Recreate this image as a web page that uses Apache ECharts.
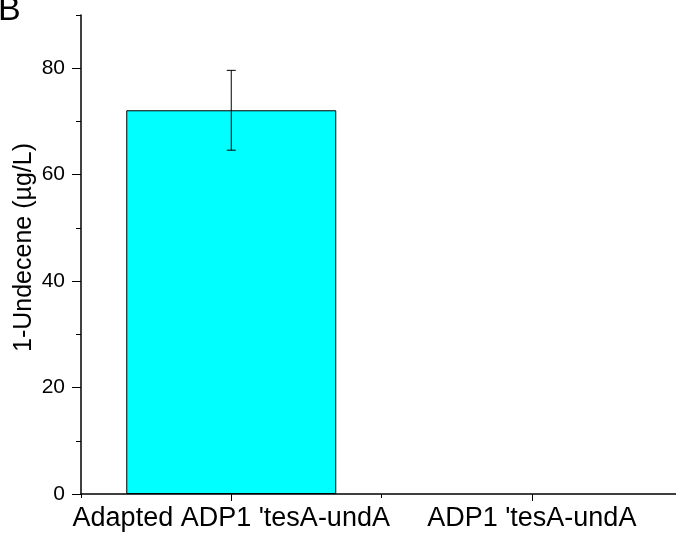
<!DOCTYPE html>
<html>
<head>
<meta charset="utf-8">
<script src="https://cdn.jsdelivr.net/npm/echarts@6/dist/echarts.min.js"></script>
<style>
  html, body { margin: 0; padding: 0; background: #fff; }
  #chart { width: 676px; height: 540px; }
</style>
</head>
<body>
<div id="chart"></div>
<script>
// data
let categories = ["Adapted ADP1 'tesA-undA", "ADP1 'tesA-undA"];
let positions = [1, 2];
let means = [72.1, 0];
let errors = [7.5, 0];
let yMajor = [0, 20, 40, 60, 80];
let yMinor = [10, 30, 50, 70, 90];
let xMinor = [0.5, 1.5];

let font = 'Liberation Sans, Arial, sans-serif';
let myChart = echarts.init(document.getElementById('chart'));

// zero-height bars are not drawn (they would only sit on the axis line)
let barData = [];
let errData = [];
positions.forEach(function (p, i) {
    if (means[i] > 0) {
        barData.push([p, means[i]]);
    }
    if (errors[i] > 0) {
        errData.push([p, means[i] - errors[i], means[i] + errors[i]]);
    }
});

let option = {
    animation: false,
    graphic: [{
        type: 'text',
        left: -2,
        top: -6,
        style: { text: 'B', fontSize: 34, fontFamily: font, fill: '#000' }
    }],
    grid: { left: 81, right: 0, top: 15, bottom: 46, outerBoundsMode: 'none', containLabel: false },
    xAxis: [{
        type: 'value',
        min: 0.5,
        max: 2.48,
        interval: 0.5,
        splitLine: { show: false },
        axisLine: { show: true, lineStyle: { color: '#000', width: 1.5 } },
        axisTick: { show: true, customValues: positions, length: 7, lineStyle: { color: '#000', width: 1 } },
        axisLabel: {
            customValues: positions,
            formatter: function (v) { return categories[positions.indexOf(v)] || ''; },
            color: '#000', fontSize: 27, fontFamily: font, margin: 11
        }
    }, {
        type: 'value',
        position: 'bottom',
        min: 0.5,
        max: 2.48,
        interval: 0.5,
        splitLine: { show: false },
        axisLine: { show: false },
        axisTick: { show: true, customValues: xMinor, length: 4, lineStyle: { color: '#000', width: 1 } },
        axisLabel: { show: false }
    }],
    yAxis: [{
        type: 'value',
        min: 0,
        max: 90,
        interval: 20,
        name: '1-Undecene (µg/L)',
        nameLocation: 'middle',
        nameGap: 44,
        nameMoveOverlap: false,
        nameTextStyle: { color: '#000', fontSize: 25, fontFamily: font, padding: [0, 0, 0, 14] },
        splitLine: { show: false },
        axisLine: { show: true, lineStyle: { color: '#000', width: 1.5 } },
        axisTick: { show: true, customValues: yMajor, length: 9, lineStyle: { color: '#000', width: 1 } },
        axisLabel: { customValues: yMajor, color: '#000', fontSize: 21, fontFamily: font, margin: 16 }
    }, {
        type: 'value',
        position: 'left',
        min: 0,
        max: 90,
        interval: 20,
        splitLine: { show: false },
        axisLine: { show: false },
        axisTick: { show: true, customValues: yMinor, length: 5, lineStyle: { color: '#000', width: 1 } },
        axisLabel: { show: false }
    }],
    series: [{
        type: 'bar',
        xAxisIndex: 0,
        yAxisIndex: 0,
        data: barData,
        barWidth: 210,
        itemStyle: { color: '#00FFFF', borderColor: '#000', borderWidth: 1 }
    }, {
        type: 'custom',
        xAxisIndex: 0,
        yAxisIndex: 0,
        data: errData,
        z: 10,
        renderItem: function (params, api) {
            let lo = api.coord([api.value(0), api.value(1)]);
            let hi = api.coord([api.value(0), api.value(2)]);
            let cap = 4.5;
            let st = { stroke: '#000', lineWidth: 1 };
            return {
                type: 'group',
                children: [
                    { type: 'line', shape: { x1: hi[0], y1: hi[1], x2: lo[0], y2: lo[1] }, style: st },
                    { type: 'line', shape: { x1: hi[0] - cap, y1: hi[1], x2: hi[0] + cap, y2: hi[1] }, style: st },
                    { type: 'line', shape: { x1: lo[0] - cap, y1: lo[1], x2: lo[0] + cap, y2: lo[1] }, style: st }
                ]
            };
        }
    }]
};
myChart.setOption(option);
</script>
</body>
</html>
